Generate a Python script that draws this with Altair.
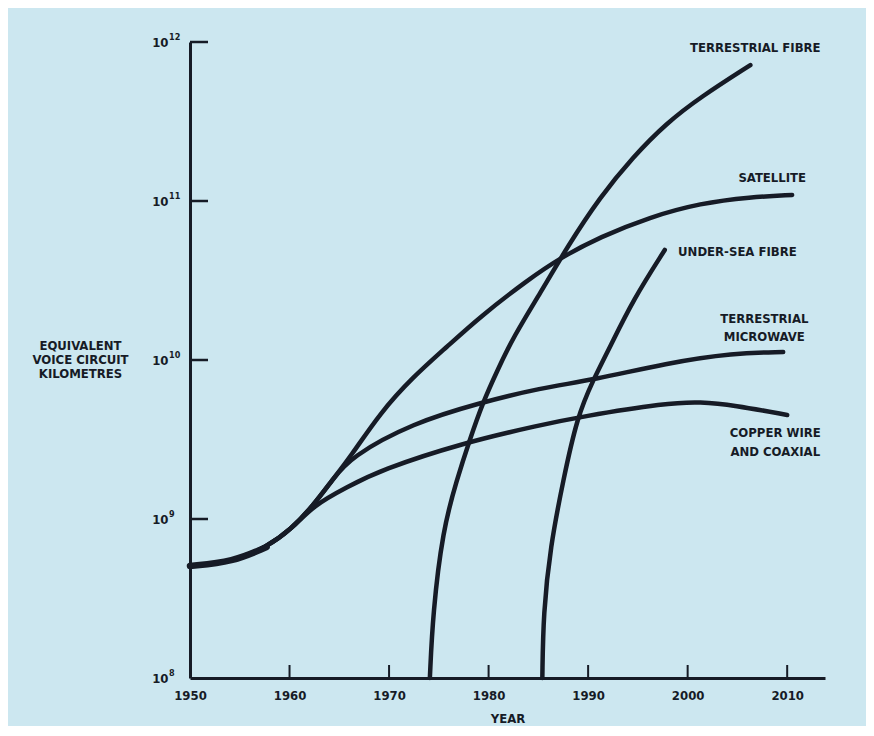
import altair as alt
import pandas as pd

# ---- data (years, equivalent voice-circuit km) ----
trunk_years = [1950.0, 1954.3, 1957.7, 1960.1, 1962.4]
trunk_values = [5.06e8, 5.37e8, 6.67e8, 8.53e8, 1.22e9]

copper_years = [1965.8, 1969.1, 1977.4, 1985.2, 1989.2, 1997.9, 2001.3, 2004.6, 2010.0]
copper_values = [1.59e9, 2.03e9, 3.01e9, 3.90e9, 4.39e9, 5.37e9, 5.45e9, 5.21e9, 4.51e9]

microwave_years = [1964.3, 1966.1, 1972.4, 1979.1, 1985.2, 1990.5, 1997.9, 2004.6, 2009.6]
microwave_values = [1.76e9, 2.45e9, 4.02e9, 5.37e9, 6.67e9, 7.48e9, 9.57e9, 1.107e10, 1.122e10]

satellite_years = [1964.3, 1966.1, 1969.1, 1972.4, 1975.8, 1979.1, 1983.9, 1987.2,
                   1991.2, 1996.2, 2001.3, 2006.3, 2010.5]
satellite_values = [1.76e9, 2.45e9, 4.65e9, 7.82e9, 1.208e10, 1.862e10, 3.18e10, 4.39e10,
                    5.94e10, 7.93e10, 9.70e10, 1.059e11, 1.091e11]

terr_fibre_years = [1974.1, 1974.4, 1975.4, 1976.8, 1978.1, 1979.4, 1980.9, 1982.5,
                    1985.2, 1987.9, 1991.2, 1994.5, 1997.9, 2001.3, 2006.3]
terr_fibre_values = [1.0e8, 2.56e8, 8.53e8, 1.76e9, 3.14e9, 5.37e9, 8.65e9, 1.40e10,
                     2.64e10, 5.14e10, 1.059e11, 1.89e11, 3.10e11, 4.51e11, 7.16e11]

undersea_years = [1985.4, 1985.5, 1986.2, 1987.5, 1988.9, 1990.5, 1992.2, 1994.5, 1997.7]
undersea_values = [1.0e8, 2.56e8, 6.67e8, 1.76e9, 4.39e9, 7.48e9, 1.208e10, 2.38e10, 4.92e10]

label_texts = ["TERRESTRIAL FIBRE", "SATELLITE", "UNDER-SEA FIBRE", "TERRESTRIAL",
               "MICROWAVE", "COPPER WIRE", "AND COAXIAL"]
label_years = [2006.8, 2008.5, 2005.0, 2007.7, 2007.7, 2008.8, 2008.8]
label_values = [9.16e11, 1.40e11, 4.78e10, 1.81e10, 1.40e10, 3.48e9, 2.64e9]

x_tick_years = [1960, 1970, 1980, 1990, 2000, 2010]
y_tick_values = [1e9, 1e10, 1e11, 1e12]
x_label_years = [1950, 1960, 1970, 1980, 1990, 2000, 2010]
y_label_values = [1e8, 1e9, 1e10, 1e11, 1e12]
y_label_exponents = ["8", "9", "10", "11", "12"]

# ---- build tables ----
rows = []
series_defs = [
    ("copper", trunk_years + copper_years, trunk_values + copper_values),
    ("microwave", trunk_years + microwave_years, trunk_values + microwave_values),
    ("satellite", trunk_years + satellite_years, trunk_values + satellite_values),
    ("terrestrial fibre", terr_fibre_years, terr_fibre_values),
    ("under-sea fibre", undersea_years, undersea_values),
]
for name, ys, vs in series_defs:
    for i, (yy, vv) in enumerate(zip(ys, vs)):
        rows.append({"series": name, "year": yy, "value": vv, "idx": i})
lines_df = pd.DataFrame(rows)
trunk_df = pd.DataFrame({"year": trunk_years[:3], "value": trunk_values[:3],
                         "idx": list(range(3))})
labels_df = pd.DataFrame({"year": label_years, "value": label_values, "label": label_texts})
xt_df = pd.DataFrame({"year": x_tick_years})
yt_df = pd.DataFrame({"value": y_tick_values})
exp_df = pd.DataFrame({"value": y_label_values, "exp": y_label_exponents})

INK = "#161b26"
BG = "#cce7f0"
FONT = "Liberation Sans Narrow, DejaVu Sans Condensed, Arial Narrow, sans-serif"

X = alt.X(
    "year:Q",
    scale=alt.Scale(domain=[1950, 2013.8], nice=False, zero=False),
    axis=alt.Axis(
        values=x_label_years, format="d", ticks=False, grid=False,
        domainColor=INK, domainWidth=3, labelFont=FONT, labelFontSize=13,
        labelFontWeight="bold", labelColor=INK, labelPadding=11, labelFlush=False,
        title="YEAR", titleFont=FONT, titleFontSize=13, titleFontWeight="bold",
        titleColor=INK, titlePadding=10,
    ),
)
Y = alt.Y(
    "value:Q",
    scale=alt.Scale(type="log", domain=[1e8, 1e12], nice=False),
    axis=alt.Axis(
        values=y_label_values,
        labelExpr="'10'",
        ticks=False, grid=False, domainColor=INK, domainWidth=3,
        labelFont=FONT, labelFontSize=13,
        labelFontWeight="bold", labelColor=INK, labelPadding=22,
        title=["EQUIVALENT", "VOICE CIRCUIT", "KILOMETRES"], titleAngle=0,
        titleAlign="center", titleBaseline="middle", titleX=-110, titleY=303,
        titleLineHeight=14, titleFont=FONT, titleFontSize=13, titleFontWeight="bold",
        titleColor=INK,
    ),
)

lines = alt.Chart(lines_df).mark_line(
    interpolate="basis", strokeWidth=4.5, color=INK, strokeCap="round"
).encode(x=X, y=Y, detail="series:N", order="idx:Q")

trunk = alt.Chart(trunk_df).mark_line(
    interpolate="basis", strokeWidth=6.5, color=INK, strokeCap="round"
).encode(x=X, y=Y, order="idx:Q")

xticks = alt.Chart(xt_df).mark_rule(color=INK, strokeWidth=2).encode(
    x=X, y=alt.value(636), y2=alt.value(623)
)
yticks = alt.Chart(yt_df).mark_rule(color=INK, strokeWidth=2.5).encode(
    y=Y, x=alt.value(0), x2=alt.value(18)
)

exps = alt.Chart(exp_df).mark_text(
    font=FONT, fontSize=9, fontWeight="bold", color=INK, align="left",
    baseline="middle", dy=-5
).encode(y=Y, x=alt.value(-21), text="exp:N")

labels = alt.Chart(labels_df).mark_text(
    font=FONT, fontSize=13, fontWeight="bold", color=INK, align="center", baseline="middle"
).encode(x=X, y=Y, text="label:N")

chart = alt.layer(lines, trunk, xticks, yticks, exps, labels).properties(
    width=635,
    height=636,
    autosize=alt.AutoSizeParams(type="none"),
    padding={"left": 182, "top": 34, "right": 41, "bottom": 48},
    background=BG,
).configure_view(stroke=None)

chart.save("out.html", embed_options={"renderer": "svg", "actions": False})
